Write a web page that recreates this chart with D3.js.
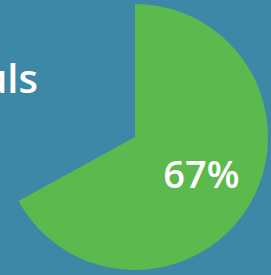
<!DOCTYPE html>
<html>
<head>
<meta charset="utf-8">
<script src="https://cdn.jsdelivr.net/npm/d3@7"></script>
<style>
  html, body { margin: 0; padding: 0; background: #3d88a6; overflow: hidden; }
  svg { display: block; }
</style>
</head>
<body>
<svg></svg>
<script>
var title = 'Fouls';
var categories = ['Done', 'Remaining'];
var values = [67, 33];
var colors = ['#5cb94d', 'none'];

var svg = d3.select('svg')
    .attr('width', 271)
    .attr('height', 275),
    cx = 135,
    cy = 137,
    radius = 133;

var pie = d3.pie().sort(null).value((d) => d);
var arc = d3.arc().innerRadius(0).outerRadius(radius);
var labelArc = d3.arc().innerRadius(radius * 0.58).outerRadius(radius * 0.58);

var g = svg.append('g')
    .attr('transform', 'translate(' + cx + ',' + cy + ')');

var arcs = pie(values);

g.selectAll('path')
    .data(arcs)
    .enter()
    .append('path')
        .attr('d', arc)
        .attr('fill', (d, i) => colors[i]);

// only the filled slice carries a label
g.append('text')
    .datum(arcs[0])
    .attr('transform', (d) => 'translate(' + labelArc.centroid(d) + ')')
    .attr('text-anchor', 'middle')
    .attr('dy', '0.3em')
    .attr('fill', '#fff')
    .style('font-family', '"Open Sans", sans-serif')
    .style('font-weight', 600)
    .style('font-size', '38px')
    .text((d) => d.data + '%');

svg.append('text')
    .attr('x', 38)
    .attr('y', 93)
    .attr('text-anchor', 'end')
    .attr('fill', '#fff')
    .style('font-family', '"Open Sans", sans-serif')
    .style('font-weight', 600)
    .style('font-size', '40px')
    .text(title);
</script>
</body>
</html>
